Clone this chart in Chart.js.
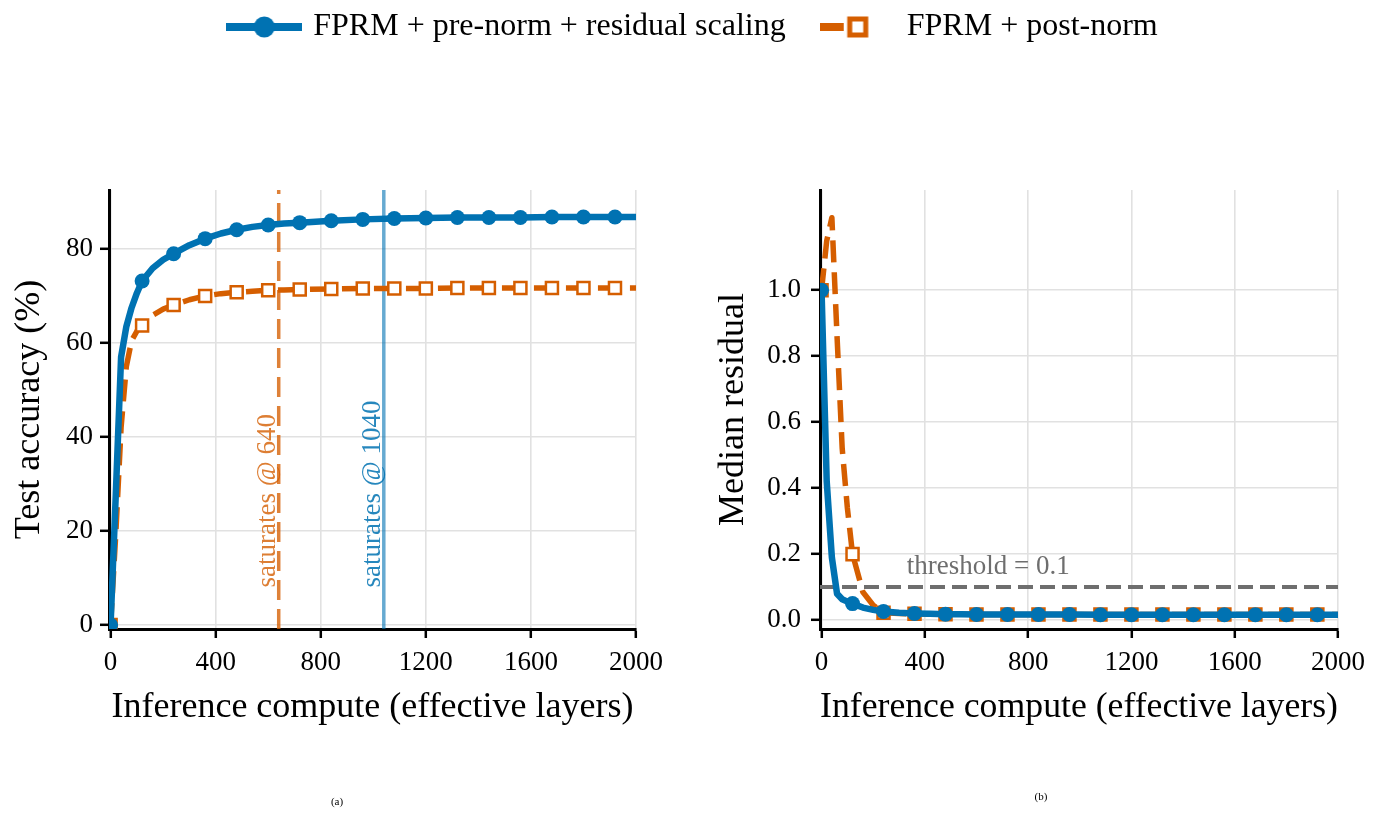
<!DOCTYPE html>
<html><head><meta charset="utf-8">
<script src="https://cdn.jsdelivr.net/npm/chart.js@4.4.1/dist/chart.umd.min.js"></script>
<style>
html,body{margin:0;padding:0;background:#fff;}
#wrap{position:relative;width:1381px;height:821px;overflow:hidden;background:#fff;}
#wrap canvas{position:absolute;left:0;top:0;}
</style></head><body>
<div id="wrap"><canvas id="left" width="1381" height="821"></canvas><canvas id="right" width="1381" height="821"></canvas></div>
<script>
// ---------------- data ----------------
const SERIES_LABELS = ['FPRM + pre-norm + residual scaling', 'FPRM + post-norm'];
const COMPUTE = [0,20,40,60,80,100,120,160,200,240,300,360,420,480,540,600,660,720,840,960,1080,1200,1320,1440,1560,1680,1800,1920,2000];
const ACC_PRENORM  = [0,28,57,63.5,67.5,70.6,73.2,75.9,77.7,79.0,80.8,82.2,83.3,84.1,84.7,85.1,85.4,85.6,86.0,86.3,86.5,86.6,86.7,86.7,86.7,86.8,86.8,86.8,86.8];
const ACC_POSTNORM = [0,19.5,42,55,60.5,62.5,63.7,65.9,67.2,68.1,69.2,70.0,70.5,70.8,71.0,71.2,71.3,71.4,71.5,71.6,71.6,71.6,71.7,71.7,71.7,71.7,71.7,71.7,71.7];
const RES_PRENORM  = [1.0,0.42,0.19,0.08,0.063,0.056,0.05,0.038,0.031,0.026,0.022,0.020,0.019,0.018,0.018,0.017,0.017,0.017,0.017,0.017,0.016,0.016,0.016,0.016,0.016,0.016,0.016,0.016,0.016];
const RES_POSTNORM = [1.0,1.15,1.22,0.86,0.52,0.34,0.20,0.085,0.045,0.022,0.020,0.019,0.018,0.018,0.018,0.017,0.017,0.017,0.017,0.017,0.017,0.017,0.017,0.017,0.017,0.017,0.017,0.017,0.017];
const X_TICKS = [0,400,800,1200,1600,2000];
const ACC_TICKS = [0,20,40,60,80];
const RES_TICKS = [0,0.2,0.4,0.6,0.8,1.0];
const SATURATION_X = [640, 1040];
const SATURATION_LABELS = ['saturates @ 640', 'saturates @ 1040'];
const THRESHOLD = 0.1;
const THRESHOLD_LABEL = 'threshold = 0.1';
const MARKER_EVERY = 120;

// ---------------- style ----------------
const SERIF = "'Liberation Serif', 'Times New Roman', serif";
const BLUE = '#0072b2', ORANGE = '#d55e00';
const GRID = '#e1e1e1';
const X_MIN = -6, X_MAX = 2000;
const ACC_MIN = -0.85, ACC_MAX = 92.55;
const RES_MIN = -0.027, RES_MAX = 1.304;
Chart.defaults.font.family = SERIF;
Chart.defaults.color = '#000';

const pts = (xs, ys) => xs.map((x, i) => ({x, y: ys[i]}));
const isMarker = c => c.raw && c.raw.x % MARKER_EVERY === 0;

function seriesDatasets(pre, post) {
  return [
    {label: SERIES_LABELS[0], data: pts(COMPUTE, pre), borderColor: BLUE, backgroundColor: BLUE,
     borderWidth: 6.5, borderJoinStyle: 'round', tension: 0, pointStyle: 'circle', pointRadius: c => isMarker(c) ? 7.5 : 0,
     pointBackgroundColor: BLUE, pointBorderWidth: 0, order: 0},
    {label: SERIES_LABELS[1], data: pts(COMPUTE, post), borderColor: ORANGE, backgroundColor: '#fff',
     borderWidth: 5.5, borderJoinStyle: 'round', borderDash: [22, 10], tension: 0, pointStyle: 'rect', pointRadius: c => isMarker(c) ? 8.5 : 0,
     pointBackgroundColor: '#fff', pointBorderColor: ORANGE, pointBorderWidth: 2.5, order: 1}
  ];
}

function makeHandle(kind) {
  const c = document.createElement('canvas'); c.width = 76; c.height = 28;
  const g = c.getContext('2d'); const cy = 14;
  if (kind === 0) {
    g.strokeStyle = BLUE; g.lineWidth = 8; g.beginPath(); g.moveTo(0, cy); g.lineTo(76, cy); g.stroke();
    g.fillStyle = BLUE; g.beginPath(); g.arc(38, cy, 10.5, 0, Math.PI * 2); g.fill();
  } else {
    g.strokeStyle = ORANGE; g.lineWidth = 8; g.beginPath(); g.moveTo(0, cy); g.lineTo(24, cy); g.stroke();
    g.fillStyle = '#fff'; g.fillRect(30, cy - 8, 16, 16);
    g.lineWidth = 5; g.strokeRect(30, cy - 8, 16, 16);
  }
  return c;
}
const HANDLES = [makeHandle(0), makeHandle(1)];

const tickFont = {family: SERIF, size: 27};
const titleFont = {family: SERIF, size: 36};
function xScale(h) {
  return {type: 'linear', min: X_MIN, max: X_MAX,
    afterBuildTicks: s => { s.ticks = X_TICKS.map(v => ({value: v})); },
    afterFit: s => { s.height = h; },
    ticks: {font: tickFont, color: '#000', padding: 9, maxRotation: 0, autoSkip: false, callback: v => String(v)},
    grid: {color: GRID, lineWidth: 1.6, tickColor: '#000', tickLength: 9, tickWidth: 2.5},
    border: {display: true, color: '#000', width: 3},
    title: {display: true, text: 'Inference compute (effective layers)', font: titleFont, color: '#000', padding: {top: 0, bottom: 0}}};
}
function yScale(min, max, ticks, w, title, fmt, pad) {
  return {type: 'linear', min, max,
    afterBuildTicks: s => { s.ticks = ticks.map(v => ({value: v})); },
    afterFit: s => { s.width = w; },
    ticks: {font: tickFont, color: '#000', padding: pad, autoSkip: false, callback: fmt},
    grid: {color: GRID, lineWidth: 1.6, tickColor: '#000', tickLength: 9, tickWidth: 2.5},
    border: {display: true, color: '#000', width: 3},
    title: {display: true, text: title, font: titleFont, color: '#000', padding: {top: 0, bottom: 0}}};
}

// plugins
const LEGEND_BLOCK = 218;
const legendSpace = {id: 'legendSpace', afterInit(chart) {
  const lg = chart.legend; if (!lg) return;
  const orig = lg.fit;
  lg.fit = function () { orig.call(this); this.height = LEGEND_BLOCK; };
}};
const SAT_LABEL_Y = 8;
const SAT_TEXT_COLORS = ['rgba(213,94,0,0.8)', 'rgba(0,114,178,0.85)'];
const satLabels = {id: 'satLabels', afterDatasetsDraw(chart) {
  const {ctx, scales: {x, y}} = chart;
  ctx.save();
  ctx.font = `27px ${SERIF}`;
  SATURATION_X.forEach((v, i) => {
    ctx.save();
    ctx.translate(x.getPixelForValue(v) - 3.5, y.getPixelForValue(SAT_LABEL_Y));
    ctx.rotate(-Math.PI / 2);
    ctx.textAlign = 'left'; ctx.textBaseline = 'alphabetic';
    ctx.fillStyle = SAT_TEXT_COLORS[i];
    ctx.fillText(SATURATION_LABELS[i], 0, 0);
    ctx.restore();
  });
  ctx.font = `11px ${SERIF}`; ctx.fillStyle = '#000'; ctx.textAlign = 'center'; ctx.textBaseline = 'middle';
  ctx.fillText('(a)', 337, 802);
  ctx.restore();
}};
const THRESH_LABEL_X = 330, THRESH_LABEL_Y = 0.14;
const threshLabel = {id: 'threshLabel', afterDatasetsDraw(chart) {
  const {ctx, scales: {x, y}} = chart;
  ctx.save();
  ctx.font = `27px ${SERIF}`; ctx.fillStyle = '#6e6e6e'; ctx.textAlign = 'left'; ctx.textBaseline = 'alphabetic';
  ctx.fillText(THRESHOLD_LABEL, x.getPixelForValue(THRESH_LABEL_X), y.getPixelForValue(THRESH_LABEL_Y));
  ctx.font = `11px ${SERIF}`; ctx.fillStyle = '#000'; ctx.textAlign = 'center'; ctx.textBaseline = 'middle';
  ctx.fillText('(b)', 1041, 797);
  ctx.restore();
}};

// ---------------- left chart ----------------
const leftDatasets = seriesDatasets(ACC_PRENORM, ACC_POSTNORM).concat([
  {label: 'sat-post', data: [{x: SATURATION_X[0], y: ACC_MIN}, {x: SATURATION_X[0], y: ACC_MAX}],
   borderColor: 'rgba(213,94,0,0.78)', borderWidth: 3.5, borderDash: [20, 9], pointRadius: 0, order: 5},
  {label: 'sat-pre', data: [{x: SATURATION_X[1], y: ACC_MIN}, {x: SATURATION_X[1], y: ACC_MAX}],
   borderColor: 'rgba(0,114,178,0.6)', borderWidth: 3.5, pointRadius: 0, order: 5}
]);
new Chart(document.getElementById('left'), {
  type: 'line',
  data: {datasets: leftDatasets},
  options: {
    responsive: false, animation: false, devicePixelRatio: 1,
    layout: {padding: {left: 8, right: 0, top: -28, bottom: 92}},
    scales: {
      x: xScale(100),
      y: yScale(ACC_MIN, ACC_MAX, ACC_TICKS, 101, 'Test accuracy (%)', v => String(v), 7),
      pad: {type: 'linear', position: 'right', display: true, grid: {display: false}, border: {display: false},
            ticks: {display: false}, afterFit: s => { s.width = 745; }}
    },
    plugins: {
      tooltip: {enabled: false},
      legend: {display: true, position: 'top', align: 'center',
        labels: {usePointStyle: true, pointStyleWidth: 66, padding: 39, color: '#000',
          font: {family: SERIF, size: 32},
          generateLabels: () => SERIES_LABELS.map((t, i) => ({text: t, pointStyle: HANDLES[i], datasetIndex: i,
            hidden: false, lineWidth: 0, fontColor: '#000', strokeStyle: 'rgba(0,0,0,0)', fillStyle: 'rgba(0,0,0,0)'}))}}
    }
  },
  plugins: [legendSpace, satLabels]
});

// ---------------- right chart ----------------
const rightDatasets = seriesDatasets(RES_PRENORM, RES_POSTNORM).concat([
  {label: 'threshold', data: [{x: X_MIN, y: THRESHOLD}, {x: X_MAX, y: THRESHOLD}],
   borderColor: '#6e6e6e', borderWidth: 4, borderDash: [15, 7], pointRadius: 0, order: 5}
]);
new Chart(document.getElementById('right'), {
  type: 'line',
  data: {datasets: rightDatasets},
  options: {
    responsive: false, animation: false, devicePixelRatio: 1,
    layout: {padding: {left: 712, right: 43, top: 190, bottom: 92}},
    scales: {
      x: xScale(100),
      y: yScale(RES_MIN, RES_MAX, RES_TICKS, 108, 'Median residual', v => Number(v).toFixed(1), 10)
    },
    plugins: {tooltip: {enabled: false}, legend: {display: false}}
  },
  plugins: [threshLabel]
});
</script>
</body></html>
